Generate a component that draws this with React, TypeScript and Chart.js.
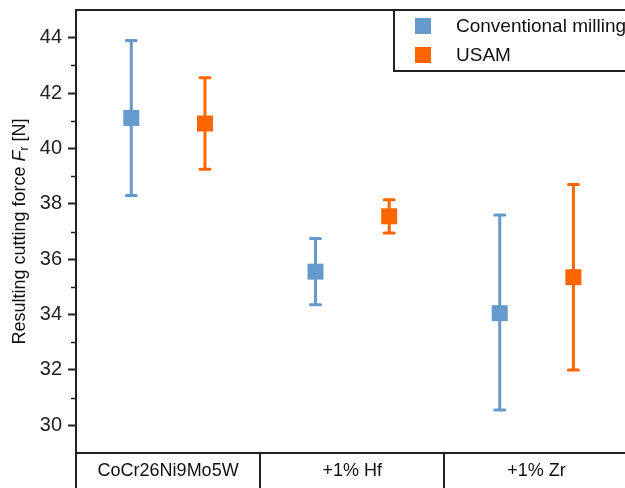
import React, { useEffect, useRef } from 'react';
import { Chart, registerables } from 'chart.js';

Chart.register(...registerables);

const categories = ['CoCr26Ni9Mo5W', '+1% Hf', '+1% Zr'];
const conventionalMean = [41.1, 35.55, 34.05];
const conventionalUpper = [43.9, 36.75, 37.6];
const conventionalLower = [38.3, 34.35, 30.55];
const usamMean = [40.9, 37.55, 35.35];
const usamUpper = [42.55, 38.15, 38.7];
const usamLower = [39.25, 36.95, 32.0];
const yMajorTicks = [30, 32, 34, 36, 38, 40, 42, 44];
const yMinorTicks = [31, 33, 35, 37, 39, 41, 43];

const BLUE = '#6699CC';
const ORANGE = '#FF6600';
const INK = '#222222';
const FONT = '"Liberation Sans", Arial, sans-serif';

const decorPlugin = {
  id: 'decor',
  beforeDatasetsDraw(chart: any) {
    const ctx = chart.ctx;
    const y = chart.scales.y;
    chart.data.datasets.forEach((ds: any, di: number) => {
      const meta = chart.getDatasetMeta(di);
      ctx.save();
      ctx.strokeStyle = ds.backgroundColor;
      ctx.lineWidth = 3;
      ctx.lineCap = 'round';
      meta.data.forEach((pt: any, i: number) => {
        const px = pt.x;
        const top = y.getPixelForValue(ds.errUpper[i]);
        const bot = y.getPixelForValue(ds.errLower[i]);
        ctx.beginPath();
        ctx.moveTo(px, top);
        ctx.lineTo(px, bot);
        ctx.moveTo(px - 5, top);
        ctx.lineTo(px + 5, top);
        ctx.moveTo(px - 5, bot);
        ctx.lineTo(px + 5, bot);
        ctx.stroke();
      });
      ctx.restore();
    });
  },
  afterDraw(chart: any) {
    const ctx = chart.ctx;
    const area = chart.chartArea;
    const x = chart.scales.x;
    const y = chart.scales.y;
    const H = chart.height;
    const W = chart.width;
    ctx.save();
    ctx.strokeStyle = INK;
    ctx.lineWidth = 2;
    // top frame
    ctx.beginPath();
    ctx.moveTo(area.left - 1, area.top);
    ctx.lineTo(W, area.top);
    ctx.stroke();
    // left axis extension through category table
    ctx.beginPath();
    ctx.moveTo(area.left, area.bottom);
    ctx.lineTo(area.left, H);
    ctx.stroke();
    // category dividers
    for (let i = 1; i < categories.length; i++) {
      const px = Math.round(x.getPixelForValue(i + 0.5));
      ctx.beginPath();
      ctx.moveTo(px, area.bottom);
      ctx.lineTo(px, H);
      ctx.stroke();
    }
    // minor ticks
    ctx.lineWidth = 1.5;
    yMinorTicks.forEach((v) => {
      const py = Math.round(y.getPixelForValue(v)) + 0.5;
      ctx.beginPath();
      ctx.moveTo(area.left - 5, py);
      ctx.lineTo(area.left, py);
      ctx.stroke();
    });
    // legend box
    const lx = 394;
    const ly = area.top;
    const lb = 71;
    ctx.lineWidth = 2;
    ctx.fillStyle = '#ffffff';
    ctx.fillRect(lx, ly, W - lx, lb - ly);
    ctx.beginPath();
    ctx.moveTo(lx, ly);
    ctx.lineTo(lx, lb);
    ctx.lineTo(W, lb);
    ctx.stroke();
    ctx.beginPath();
    ctx.moveTo(lx, ly);
    ctx.lineTo(W, ly);
    ctx.stroke();
    ctx.font = `19px ${FONT}`;
    ctx.textBaseline = 'middle';
    ctx.textAlign = 'left';
    chart.data.datasets.forEach((ds: any, di: number) => {
      const cy = 26 + di * 29;
      ctx.fillStyle = ds.backgroundColor;
      ctx.fillRect(415, cy - 8, 16, 16);
      ctx.fillStyle = '#111111';
      ctx.fillText(ds.label, 456, cy + 1);
    });
    // y axis title with italic F and subscript r
    const parts = [
      { t: 'Resulting cutting force ', f: `18px ${FONT}`, dy: 0 },
      { t: 'F', f: `italic 18px ${FONT}`, dy: 0 },
      { t: 'r', f: `12px ${FONT}`, dy: 5 },
      { t: ' [N]', f: `18px ${FONT}`, dy: 0 },
    ];
    let total = 0;
    parts.forEach((p) => {
      ctx.font = p.f;
      total += ctx.measureText(p.t).width;
    });
    ctx.translate(20, (area.top + area.bottom) / 2);
    ctx.rotate(-Math.PI / 2);
    ctx.fillStyle = '#111111';
    ctx.textBaseline = 'middle';
    let cx = -total / 2;
    parts.forEach((p) => {
      ctx.font = p.f;
      ctx.fillText(p.t, cx, p.dy);
      cx += ctx.measureText(p.t).width;
    });
    ctx.restore();
  },
};

export default function App() {
  const ref = useRef<HTMLCanvasElement | null>(null);
  useEffect(() => {
    if (!ref.current) return;
    const chart = new Chart(ref.current, {
      type: 'scatter',
      data: {
        datasets: [
          {
            label: 'Conventional milling',
            data: categories.map((_, i) => ({ x: i + 1 - 0.2, y: conventionalMean[i] })),
            backgroundColor: BLUE,
            borderColor: BLUE,
            errUpper: conventionalUpper,
            errLower: conventionalLower,
          } as any,
          {
            label: 'USAM',
            data: categories.map((_, i) => ({ x: i + 1 + 0.2, y: usamMean[i] })),
            backgroundColor: ORANGE,
            borderColor: ORANGE,
            errUpper: usamUpper,
            errLower: usamLower,
          } as any,
        ],
      },
      options: {
        animation: false,
        responsive: false,
        events: [],
        layout: { autoPadding: false, padding: { top: 10, left: 0, right: 0, bottom: 0 } },
        elements: {
          point: { pointStyle: 'rect', radius: 11.3, borderWidth: 0 },
        },
        plugins: { legend: { display: false }, tooltip: { enabled: false } },
        scales: {
          x: {
            type: 'linear',
            min: 0.5,
            max: 3.48,
            afterBuildTicks: (scale: any) => {
              scale.ticks = categories.map((_, i) => ({ value: i + 1 }));
            },
            afterFit: (scale: any) => {
              scale.height = 35;
              scale.paddingLeft = 0;
              scale.paddingRight = 0;
            },
            ticks: {
              autoSkip: false,
              maxRotation: 0,
              padding: 7,
              color: '#111111',
              font: { family: FONT, size: 18 },
              callback: (v: any) => categories[Math.round(Number(v)) - 1] ?? '',
            },
            grid: { drawOnChartArea: false, drawTicks: false },
            border: { display: true, color: INK, width: 2 },
          },
          y: {
            type: 'linear',
            min: 29,
            max: 45,
            afterBuildTicks: (scale: any) => {
              scale.ticks = yMajorTicks.map((v) => ({ value: v }));
            },
            afterFit: (scale: any) => {
              scale.width = 76;
              scale.paddingTop = 0;
              scale.paddingBottom = 0;
            },
            ticks: {
              padding: 6,
              color: INK,
              font: { family: FONT, size: 20 },
            },
            grid: { drawOnChartArea: false, drawTicks: true, tickLength: 8, tickWidth: 2, tickColor: INK },
            border: { display: true, color: INK, width: 2 },
          },
        },
      },
      plugins: [decorPlugin],
    });
    return () => chart.destroy();
  }, []);
  return (
    <div style={{ position: 'fixed', left: 0, top: 0, width: 625, height: 488, background: '#fff' }}>
      <canvas ref={ref} width={625} height={488} style={{ display: 'block' }} />
    </div>
  );
}
